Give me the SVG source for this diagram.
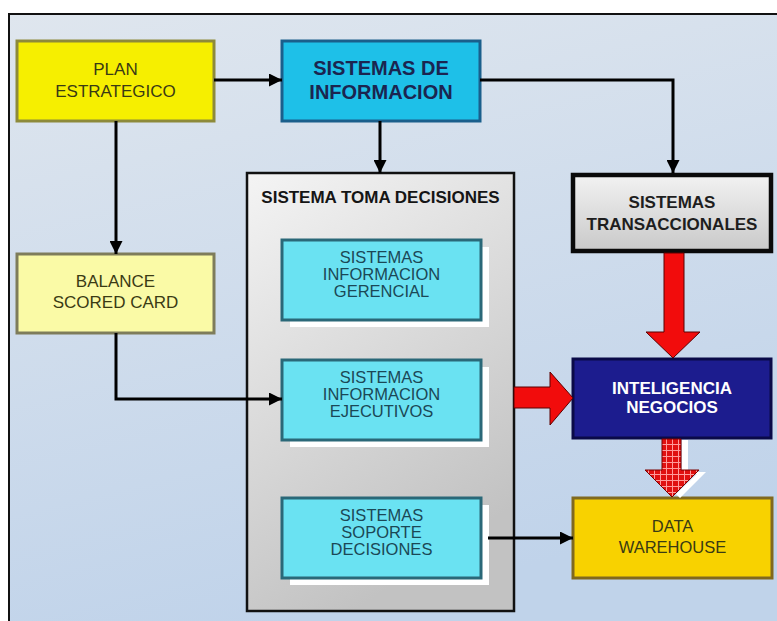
<svg xmlns="http://www.w3.org/2000/svg" width="777" height="621" viewBox="0 0 777 621">
<defs>
<linearGradient id="bg" x1="0" y1="0" x2="0.3" y2="1">
<stop offset="0" stop-color="#dfe6ee"/>
<stop offset="1" stop-color="#c0d3ea"/>
</linearGradient>
<linearGradient id="gray" x1="0" y1="0" x2="0.4" y2="1">
<stop offset="0" stop-color="#f4f4f4"/>
<stop offset="1" stop-color="#c2c2c2"/>
</linearGradient>
<linearGradient id="gray2" x1="0" y1="0" x2="0" y2="1">
<stop offset="0" stop-color="#f2f2f2"/>
<stop offset="1" stop-color="#c9c9c9"/>
</linearGradient>
<pattern id="check" width="6" height="6" patternUnits="userSpaceOnUse">
<rect width="6" height="6" fill="#e01010"/>
<path d="M0,0.5 H6 M0.5,0 V6" stroke="#ff9a9a" stroke-width="1"/>
</pattern>
<marker id="ah" markerUnits="userSpaceOnUse" markerWidth="13" markerHeight="13" refX="13" refY="6.5" orient="auto">
<path d="M0,0 L13,6.5 L0,13 z" fill="#000"/>
</marker>
</defs>
<style>
.t{font-family:"Liberation Sans",Arial,sans-serif;text-anchor:middle}
.b{font-weight:bold}
.conn{fill:none;stroke:#000;stroke-width:3}
.cyan{fill:#6ae2f2;stroke:#2a6878;stroke-width:3}
.shadow{fill:#fff}
.olive{fill:#3a3a14}
.teal{fill:#1b4856}
.red{fill:#f20c0c;stroke:#5a0000;stroke-width:1}
</style>
<rect x="0" y="0" width="777" height="621" fill="#fff"/>
<rect x="9" y="14" width="780" height="620" fill="url(#bg)" stroke="#111" stroke-width="2"/>

<g id="plan">
<rect x="17" y="41" width="197" height="80" fill="#f6ef00" stroke="#8d8a3a" stroke-width="3"/>
<text class="t olive" x="115.5" y="75" font-size="17">PLAN</text>
<text class="t olive" x="115.5" y="97" font-size="17">ESTRATEGICO</text>
</g>

<g id="sistemas-informacion">
<rect x="282" y="41" width="198" height="80" fill="#1ec0e8" stroke="#1a5f8c" stroke-width="3"/>
<text class="t b" x="381" y="75" font-size="20" fill="#1b2550">SISTEMAS DE</text>
<text class="t b" x="381" y="99" font-size="20" fill="#1b2550">INFORMACION</text>
</g>

<g id="balance">
<rect x="17" y="254" width="197" height="79" fill="#fafaa6" stroke="#7e7c5a" stroke-width="3"/>
<text class="t olive" x="115.5" y="287" font-size="17">BALANCE</text>
<text class="t olive" x="115.5" y="308" font-size="17">SCORED CARD</text>
</g>

<g id="toma-decisiones">
<rect x="247" y="173" width="267" height="438" fill="url(#gray)" stroke="#111" stroke-width="2.5"/>
<text class="t b" x="380.5" y="203" font-size="17" fill="#151515">SISTEMA TOMA DECISIONES</text>
</g>

<g id="sig">
<rect class="shadow" x="290" y="247" width="199" height="80"/>
<rect class="cyan" x="282" y="240" width="199" height="80"/>
<text class="t teal" x="381.5" y="263" font-size="16.5">SISTEMAS</text>
<text class="t teal" x="381.5" y="280" font-size="16.5">INFORMACION</text>
<text class="t teal" x="381.5" y="297" font-size="16.5">GERENCIAL</text>
</g>

<g id="sie">
<rect class="shadow" x="290" y="367" width="199" height="80"/>
<rect class="cyan" x="282" y="360" width="199" height="80"/>
<text class="t teal" x="381.5" y="383" font-size="16.5">SISTEMAS</text>
<text class="t teal" x="381.5" y="400" font-size="16.5">INFORMACION</text>
<text class="t teal" x="381.5" y="417" font-size="16.5">EJECUTIVOS</text>
</g>

<g id="ssd">
<rect class="shadow" x="290" y="505" width="199" height="80"/>
<rect class="cyan" x="282" y="498" width="199" height="80"/>
<text class="t teal" x="381.5" y="521" font-size="16.5">SISTEMAS</text>
<text class="t teal" x="381.5" y="538" font-size="16.5">SOPORTE</text>
<text class="t teal" x="381.5" y="555" font-size="16.5">DECISIONES</text>
</g>

<g id="transaccionales">
<rect x="573" y="175" width="198" height="76" fill="url(#gray2)" stroke="#0a0a0a" stroke-width="4.5"/>
<text class="t b" x="672" y="208" font-size="17" fill="#1e1e1e">SISTEMAS</text>
<text class="t b" x="672" y="230" font-size="17" fill="#1e1e1e">TRANSACCIONALES</text>
</g>

<g id="inteligencia">
<rect x="573" y="359" width="198" height="79" fill="#1c1c8e" stroke="#0a0a48" stroke-width="3"/>
<text class="t b" x="672" y="394" font-size="17" fill="#fff">INTELIGENCIA</text>
<text class="t b" x="672" y="413" font-size="17" fill="#fff">NEGOCIOS</text>
</g>

<g id="data-warehouse">
<rect x="573" y="498" width="199" height="80" fill="#f8d200" stroke="#80691e" stroke-width="3"/>
<text class="t olive" x="672.5" y="532" font-size="16.5">DATA</text>
<text class="t olive" x="672.5" y="553" font-size="16.5">WAREHOUSE</text>
</g>

<g id="connectors">
<path class="conn" d="M214,80 H282" marker-end="url(#ah)"/>
<path class="conn" d="M116,121 V254" marker-end="url(#ah)"/>
<path class="conn" d="M116,333 V399 H282" marker-end="url(#ah)"/>
<path class="conn" d="M380,121 V173" marker-end="url(#ah)"/>
<path class="conn" d="M480,80 H673 V173" marker-end="url(#ah)"/>
<path class="conn" d="M488,538 H573" marker-end="url(#ah)"/>
<polygon class="red" points="664,253 684,253 684,332 700,332 673,358 646,332 664,332"/>
<polygon class="red" points="514,387 550,387 550,372 573,398 550,425 550,408 514,408"/>
<polygon fill="#fff" points="670,440 688,440 688,472 706,472 680,498 676,494 697,474 682,474 682,440"/>
<polygon fill="url(#check)" stroke="#7a0000" stroke-width="1" points="662,439 681,439 681,470 699,470 672,497 645,470 662,470"/>
</g>
</svg>
